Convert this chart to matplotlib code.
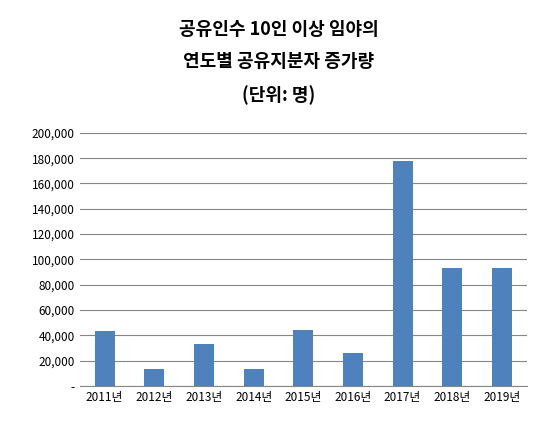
import matplotlib
matplotlib.use("Agg")
import matplotlib.pyplot as plt
from matplotlib.ticker import FuncFormatter

plt.rcParams['font.family'] = ['Noto Sans CJK KR', 'DejaVu Sans']

years = ["2011년", "2012년", "2013년", "2014년", "2015년", "2016년", "2017년", "2018년", "2019년"]
values = [43000, 13500, 33500, 13500, 44500, 26000, 178000, 93000, 93000]
title_lines = "공유인수 10인 이상 임야의\n연도별 공유지분자 증가량\n(단위: 명)"

fig = plt.figure(figsize=(5.58, 4.4), dpi=100)
ax = fig.add_axes([0.143, 0.123, 0.801, 0.575])
ax.bar(range(len(years)), values, width=0.4, color="#4f81bd")
ax.set_xlim(-0.5, len(years) - 0.5)
ax.set_ylim(0, 200000)
ax.set_yticks(range(0, 200001, 20000))
ax.yaxis.set_major_formatter(FuncFormatter(lambda v, p: "-" if v == 0 else f"{int(v):,}"))
ax.set_xticks(range(len(years)))
ax.set_xticklabels(years)
ax.tick_params(labelsize=8.5, length=0)
ax.grid(axis="y", color="#868686", lw=0.8)
ax.set_axisbelow(True)
for s in ["top", "right", "left"]:
    ax.spines[s].set_visible(False)
ax.spines["bottom"].set_color("#868686")
fig.text(0.5, 0.955, title_lines, ha="center", va="top", fontsize=13,
         fontweight="bold", linespacing=1.9)
fig.savefig("out.png", dpi=100)
